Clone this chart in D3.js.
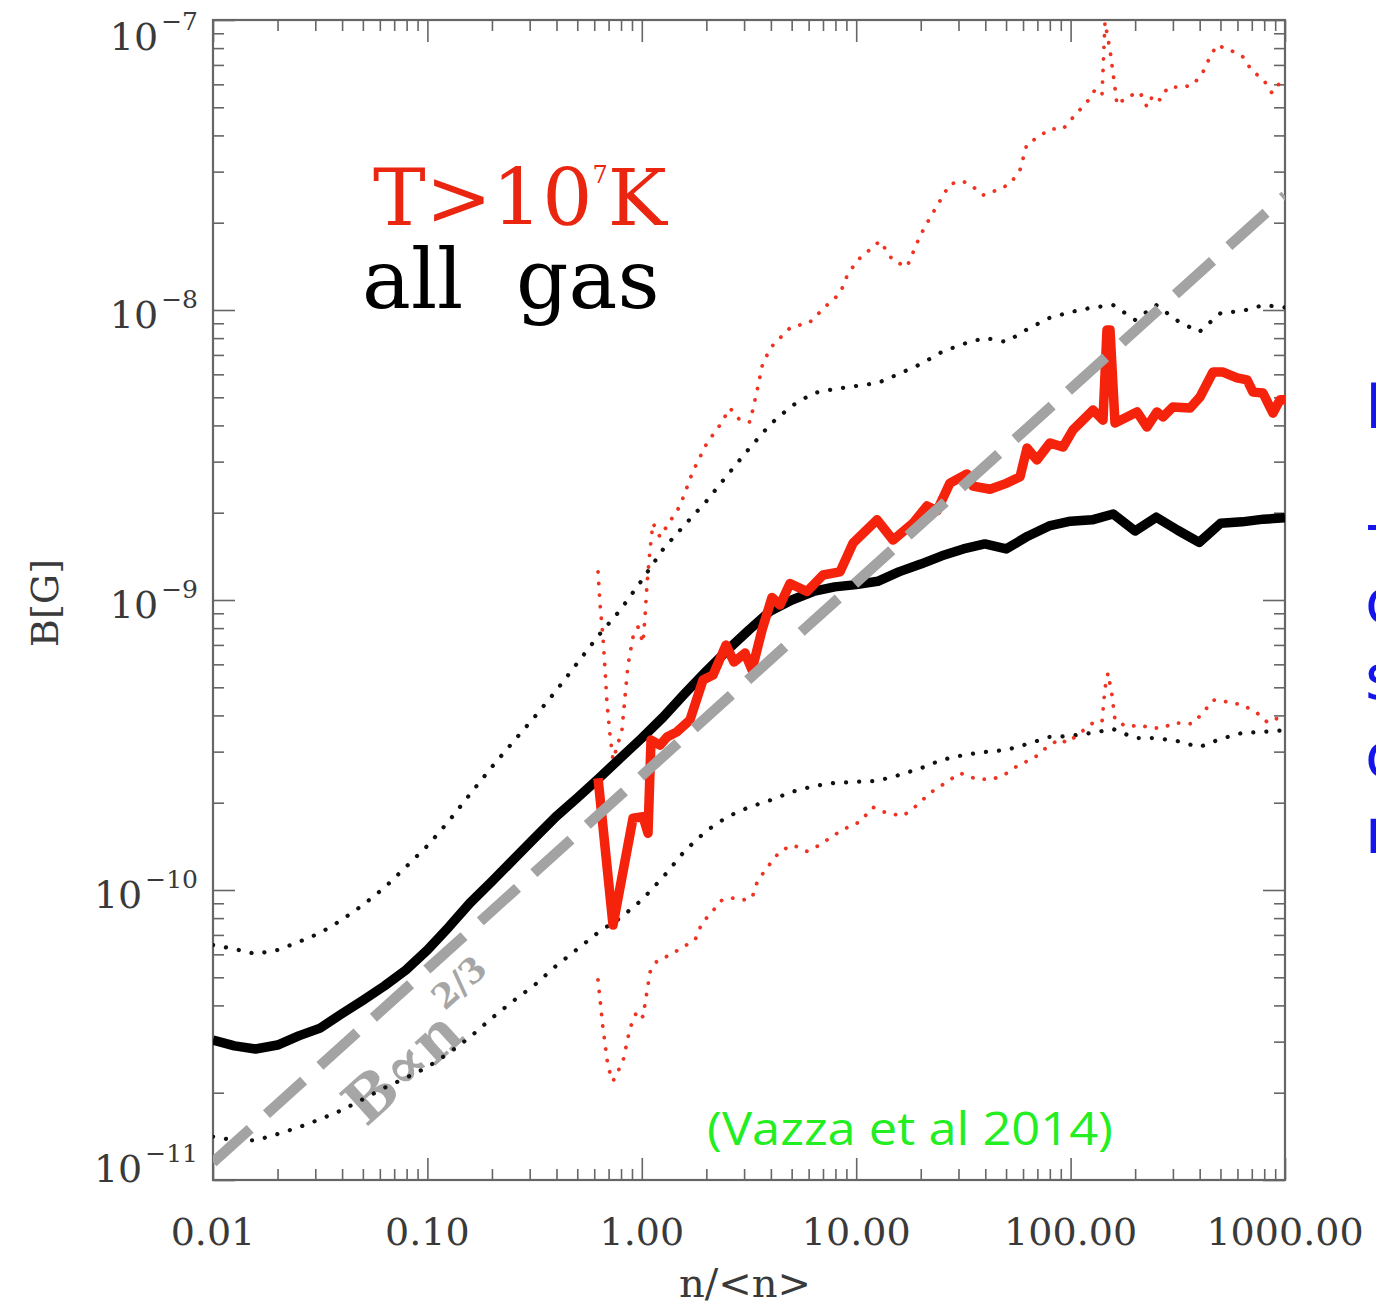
<!DOCTYPE html>
<html><head><meta charset="utf-8">
<script src="https://cdn.jsdelivr.net/npm/d3@7"></script>
<style>html,body{margin:0;padding:0;background:#fff;overflow:hidden}</style>
</head><body><svg id="chart" width="1376" height="1309"></svg>
<script>
// ---------------- data ----------------
// all gas: density bins and median / upper / lower B [G]
const nAll = [0.01, 0.0126, 0.0158, 0.0200, 0.0251, 0.0316, 0.0398, 0.0501, 0.0631, 0.0794, 0.100, 0.126, 0.158, 0.200, 0.251, 0.316, 0.398, 0.501, 0.631, 0.794, 1.00, 1.26, 1.58, 2.00, 2.51, 3.16, 3.98, 5.01, 6.31, 7.94, 10.0, 12.6, 15.8, 20.0, 25.1, 31.6, 39.8, 50.1, 63.1, 79.4, 100, 126, 158, 200, 251, 316, 398, 501, 631, 794, 1000];
const bAllMedian = [3.04e-11, 2.90e-11, 2.83e-11, 2.92e-11, 3.14e-11, 3.34e-11, 3.74e-11, 4.17e-11, 4.67e-11, 5.30e-11, 6.21e-11, 7.46e-11, 9.02e-11, 1.07e-10, 1.27e-10, 1.51e-10, 1.79e-10, 2.08e-10, 2.43e-10, 2.85e-10, 3.34e-10, 3.95e-10, 4.74e-10, 5.69e-10, 6.72e-10, 7.88e-10, 9.17e-10, 1.00e-9, 1.07e-9, 1.11e-9, 1.13e-9, 1.16e-9, 1.25e-9, 1.33e-9, 1.42e-9, 1.50e-9, 1.56e-9, 1.50e-9, 1.66e-9, 1.80e-9, 1.87e-9, 1.89e-9, 1.98e-9, 1.73e-9, 1.93e-9, 1.74e-9, 1.58e-9, 1.84e-9, 1.86e-9, 1.90e-9, 1.92e-9];
const bAllHigh = [6.46e-11, 6.26e-11, 6.02e-11, 6.21e-11, 6.62e-11, 7.11e-11, 7.88e-11, 8.88e-11, 1.02e-10, 1.20e-10, 1.42e-10, 1.73e-10, 2.14e-10, 2.66e-10, 3.24e-10, 3.95e-10, 4.86e-10, 6.07e-10, 7.57e-10, 9.24e-10, 1.17e-9, 1.50e-9, 1.81e-9, 2.19e-9, 2.70e-9, 3.32e-9, 4.04e-9, 4.67e-9, 5.17e-9, 5.34e-9, 5.47e-9, 5.60e-9, 6.02e-9, 6.51e-9, 7.17e-9, 7.64e-9, 8.01e-9, 7.76e-9, 8.60e-9, 9.38e-9, 9.84e-9, 1.02e-8, 1.04e-8, 9.24e-9, 1.04e-8, 9.17e-9, 8.40e-9, 9.76e-9, 9.92e-9, 1.04e-8, 1.02e-8];
const bAllLow = [1.41e-11, 1.37e-11, 1.37e-11, 1.44e-11, 1.52e-11, 1.62e-11, 1.74e-11, 1.90e-11, 2.08e-11, 2.25e-11, 2.45e-11, 2.74e-11, 3.11e-11, 3.62e-11, 4.14e-11, 4.70e-11, 5.47e-11, 6.26e-11, 7.17e-11, 8.01e-11, 9.24e-11, 1.11e-10, 1.36e-10, 1.60e-10, 1.79e-10, 1.93e-10, 2.04e-10, 2.18e-10, 2.28e-10, 2.34e-10, 2.36e-10, 2.38e-10, 2.49e-10, 2.63e-10, 2.81e-10, 2.92e-10, 2.99e-10, 3.04e-10, 3.19e-10, 3.37e-10, 3.40e-10, 3.48e-10, 3.59e-10, 3.34e-10, 3.34e-10, 3.26e-10, 3.11e-10, 3.32e-10, 3.48e-10, 3.51e-10, 3.56e-10];

// T > 1e7 K gas: median
const nHotMedian = [0.625, 0.734, 0.910, 1.013, 1.069, 1.104, 1.216, 1.311, 1.459, 1.678, 1.929, 2.148, 2.470, 2.692, 3.029, 3.266, 3.636, 4.048, 4.412, 4.912, 5.895, 7.000, 8.403, 9.663, 12.50, 14.85, 18.41, 21.39, 23.82, 27.38, 32.87, 35.06, 42.09, 50.51, 58.08, 62.62, 69.71, 80.15, 92.19, 102.6, 127.2, 141.6, 147.8, 152.7, 161.1, 204.0, 227.2, 252.9, 269.8, 300.4, 360.6, 401.4, 461.6, 513.8, 597.2, 665.2, 709.1, 789.6, 879.0, 947.8, 1000];
const bHotMedian = [2.43e-10, 7.57e-11, 1.77e-10, 1.79e-10, 1.57e-10, 3.29e-10, 3.16e-10, 3.37e-10, 3.51e-10, 3.86e-10, 5.30e-10, 5.51e-10, 6.99e-10, 6.11e-10, 6.56e-10, 5.74e-10, 7.88e-10, 1.02e-9, 9.61e-10, 1.14e-9, 1.07e-9, 1.22e-9, 1.25e-9, 1.57e-9, 1.89e-9, 1.61e-9, 1.84e-9, 2.11e-9, 2.03e-9, 2.53e-9, 2.72e-9, 2.47e-9, 2.41e-9, 2.53e-9, 2.66e-9, 3.34e-9, 3.04e-9, 3.48e-9, 3.37e-9, 3.86e-9, 4.52e-9, 4.17e-9, 8.53e-9, 8.53e-9, 4.08e-9, 4.45e-9, 3.95e-9, 4.45e-9, 4.28e-9, 4.63e-9, 4.59e-9, 5.01e-9, 6.11e-9, 6.11e-9, 5.83e-9, 5.74e-9, 5.21e-9, 5.17e-9, 4.41e-9, 4.90e-9, 4.90e-9];

// T > 1e7 K gas: upper dotted
const nHotHigh = [0.625, 0.638, 0.659, 0.674, 0.688, 0.711, 0.734, 0.766, 0.808, 0.835, 0.862, 0.910, 0.960, 1.013, 1.035, 1.058, 1.092, 1.128, 1.216, 1.311, 1.507, 1.733, 2.014, 2.315, 2.578, 2.871, 3.197, 3.446, 3.676, 4.091, 4.912, 6.088, 7.307, 8.403, 9.060, 10.09, 11.98, 12.91, 14.85, 17.26, 19.85, 22.09, 24.60, 27.38, 31.48, 35.06, 39.02, 45.36, 52.17, 58.08, 62.62, 69.71, 80.15, 92.19, 104.8, 119.3, 129.9, 140.1, 144.7, 152.7, 161.1, 164.6, 183.3, 210.7, 227.2, 242.3, 261.2, 284.7, 334.4, 372.3, 414.5, 447.0, 481.7, 565.9, 637.1, 701.8, 789.6, 869.7, 927.6, 1000];
const bHotHigh = [1.25e-9, 9.76e-10, 7.46e-10, 5.74e-10, 4.41e-10, 3.42e-10, 2.81e-10, 3.11e-10, 3.56e-10, 4.63e-10, 5.97e-10, 7.46e-10, 8.07e-10, 7.11e-10, 8.74e-10, 1.14e-9, 1.49e-9, 1.84e-9, 1.65e-9, 1.80e-9, 2.11e-9, 2.78e-9, 3.48e-9, 4.01e-9, 4.59e-9, 4.17e-9, 4.11e-9, 5.26e-9, 6.62e-9, 7.57e-9, 8.67e-9, 9.09e-9, 1.04e-8, 1.14e-8, 1.31e-8, 1.48e-8, 1.65e-8, 1.73e-8, 1.48e-8, 1.41e-8, 1.80e-8, 2.08e-8, 2.38e-8, 2.72e-8, 2.78e-8, 2.66e-8, 2.49e-8, 2.59e-8, 2.72e-8, 3.04e-8, 3.74e-8, 3.92e-8, 4.21e-8, 4.21e-8, 4.70e-8, 5.21e-8, 5.74e-8, 5.51e-8, 9.84e-8, 7.88e-8, 5.83e-8, 5.09e-8, 5.43e-8, 5.64e-8, 5.01e-8, 5.51e-8, 5.30e-8, 5.87e-8, 5.87e-8, 5.97e-8, 6.62e-8, 7.46e-8, 8.20e-8, 7.82e-8, 7.46e-8, 6.67e-8, 6.26e-8, 5.60e-8, 5.97e-8, 6.21e-8];

// T > 1e7 K gas: lower dotted
const nHotLow = [0.625, 0.659, 0.696, 0.734, 0.817, 0.881, 0.950, 1.013, 1.092, 1.177, 1.354, 1.557, 1.771, 1.909, 2.125, 2.366, 2.634, 2.965, 3.266, 3.446, 3.755, 4.412, 5.072, 5.895, 6.780, 7.794, 9.060, 10.42, 11.98, 13.92, 16.53, 19.21, 22.09, 26.51, 30.49, 36.59, 43.47, 50.51, 58.08, 66.77, 77.61, 89.25, 96.21, 110.6, 127.2, 140.1, 144.7, 149.4, 156.0, 161.1, 183.3, 210.7, 234.6, 266.9, 306.9, 368.4, 414.5, 461.6, 542.1, 637.1, 740.3, 833.3, 927.6, 1000];
const bHotLow = [4.90e-11, 3.34e-11, 2.45e-11, 2.19e-11, 2.57e-11, 3.34e-11, 3.83e-11, 3.65e-11, 5.21e-11, 5.69e-11, 5.97e-11, 6.36e-11, 6.72e-11, 7.69e-11, 8.40e-11, 9.24e-11, 9.38e-11, 9.24e-11, 9.38e-11, 1.06e-10, 1.17e-10, 1.36e-10, 1.43e-10, 1.36e-10, 1.43e-10, 1.54e-10, 1.64e-10, 1.72e-10, 1.93e-10, 1.84e-10, 1.80e-10, 1.96e-10, 2.16e-10, 2.36e-10, 2.53e-10, 2.41e-10, 2.41e-10, 2.53e-10, 2.72e-10, 2.83e-10, 3.11e-10, 3.32e-10, 3.21e-10, 3.48e-10, 3.77e-10, 3.80e-10, 4.97e-10, 5.60e-10, 4.70e-10, 3.86e-10, 3.65e-10, 3.71e-10, 3.62e-10, 3.62e-10, 3.77e-10, 3.74e-10, 4.08e-10, 4.52e-10, 4.45e-10, 4.34e-10, 4.08e-10, 3.77e-10, 3.92e-10, 4.01e-10];

// B ∝ n^(2/3) guide
const nGuide = [0.01, 1000];
const bGuide = [1.15e-11, 2.48e-8];

// axes
const xTickValues = [0.01, 0.1, 1, 10, 100, 1000];
const xTickLabels = ["0.01", "0.10", "1.00", "10.00", "100.00", "1000.00"];
const yTickValues = [1e-11, 1e-10, 1e-9, 1e-8, 1e-7];
const yTickExponents = ["\u221211", "\u221210", "\u22129", "\u22128", "\u22127"];

// annotation texts
const labelHot = ["T>10", "7", "K"];
const labelAll = ["all", "gas"];
const guideLabel = ["B\u221Dn", "2/3"];
const citation = "(Vazza et al 2014)";
const sideLetters = ["L", "-", "c", "s", "c", "r"];

// ---------------- drawing ----------------
const svg = d3.select("#chart");
const L = 213, R = 1285, T = 20, B = 1180;
const x = d3.scaleLog().domain([0.01, 1000]).range([L, R]);
const y = d3.scaleLog().domain([1e-11, 1e-7]).range([B, T]);
const serif = "'DejaVu Serif', serif";
const axisCol = "#666";

svg.append("rect").attr("width", 1376).attr("height", 1309).attr("fill", "#fff");

svg.append("defs").append("clipPath").attr("id", "plotclip")
  .append("rect").attr("x", L).attr("y", T).attr("width", R - L).attr("height", B - T);

// minor ticks
const minor = (lo, hi) => {
  const out = [];
  for (let d = lo; d < hi * 0.99; d *= 10) for (let m = 2; m <= 9; m++) out.push(m * d);
  return out;
};
const xMinor = minor(0.01, 1000), yMinor = minor(1e-11, 1e-7);

function tickAxis(axisFn, scale, vals, size, transform) {
  const g = svg.append("g").attr("transform", transform)
    .call(axisFn(scale).tickValues(vals).tickSize(-size).tickFormat(""));
  g.select(".domain").remove();
  g.selectAll("line").attr("stroke", axisCol).attr("stroke-width", 1.6);
}
tickAxis(d3.axisBottom, x, xTickValues, 22, `translate(0,${B})`);
tickAxis(d3.axisBottom, x, xMinor, 11, `translate(0,${B})`);
tickAxis(d3.axisTop, x, xTickValues, 22, `translate(0,${T})`);
tickAxis(d3.axisTop, x, xMinor, 11, `translate(0,${T})`);
tickAxis(d3.axisLeft, y, yTickValues, 22, `translate(${L},0)`);
tickAxis(d3.axisLeft, y, yMinor, 11, `translate(${L},0)`);
tickAxis(d3.axisRight, y, yTickValues, 22, `translate(${R},0)`);
tickAxis(d3.axisRight, y, yMinor, 11, `translate(${R},0)`);

svg.append("rect").attr("x", L).attr("y", T).attr("width", R - L).attr("height", B - T)
  .attr("fill", "none").attr("stroke", axisCol).attr("stroke-width", 2.2);

// tick labels
svg.append("g").selectAll("text").data(xTickValues).join("text")
  .attr("x", d => x(d)).attr("y", 1245).attr("text-anchor", "middle")
  .attr("font-family", serif).attr("font-size", 38).attr("fill", "#3a3a3a")
  .text((d, i) => xTickLabels[i]);

const yl = svg.append("g").selectAll("text").data(yTickValues).join("text")
  .attr("x", 198).attr("y", d => Math.min(Math.max(y(d) + 18, T + 30), B + 2))
  .attr("text-anchor", "end").attr("font-family", serif).attr("font-size", 38).attr("fill", "#3a3a3a");
yl.append("tspan").text("10");
yl.append("tspan").attr("font-size", 25).attr("dy", -20).attr("dx", 3).text((d, i) => yTickExponents[i]);

svg.append("text").attr("x", 745).attr("y", 1297).attr("text-anchor", "middle")
  .attr("font-family", serif).attr("font-size", 40).attr("fill", "#3a3a3a").text("n/<n>");
svg.append("text").attr("transform", "translate(58,603) rotate(-90)").attr("text-anchor", "middle")
  .attr("font-family", serif).attr("font-size", 38).attr("fill", "#3a3a3a").text("B[G]");

// guide label
const gl = svg.append("text").attr("transform", "translate(366,1128) rotate(-42)")
  .attr("font-family", serif).attr("font-size", 60).attr("font-weight", "bold").attr("fill", "#a6a6a6");
gl.append("tspan").text(guideLabel[0]);
gl.append("tspan").attr("font-size", 34).attr("dy", -34).attr("dx", 2).text(guideLabel[1]);

// curves
const plot = svg.append("g").attr("clip-path", "url(#plotclip)");
const line = d3.line().x(d => x(d[0])).y(d => y(d[1]));

function draw(ns, bs, color, width, dash) {
  plot.append("path").datum(d3.zip(ns, bs)).attr("d", line)
    .attr("fill", "none").attr("stroke", color).attr("stroke-width", width)
    .attr("stroke-linejoin", "round")
    .attr("stroke-linecap", dash ? "round" : "butt")
    .attr("stroke-dasharray", dash || null);
}
draw(nAll, bAllHigh, "#111", 4.2, "0.1 13");
draw(nAll, bAllLow, "#111", 4.2, "0.1 13");
draw(nHotHigh, bHotHigh, "#ee3322", 3.8, "0.1 11.5");
draw(nHotLow, bHotLow, "#ee3322", 3.8, "0.1 11.5");
draw(nAll, bAllMedian, "#000", 9.5, null);
draw(nHotMedian, bHotMedian, "#f5220c", 9.5, null);
plot.append("path").datum(d3.zip(nGuide, bGuide)).attr("d", line)
  .attr("fill", "none").attr("stroke", "#a3a3a3").attr("stroke-width", 10.5)
  .attr("stroke-dasharray", "50 22");

// legend-like labels (one text block, two lines)
const lg = svg.append("text").attr("font-family", serif);
lg.append("tspan").attr("x", 373).attr("y", 225).attr("font-size", 79).attr("fill", "#ea2510").text(labelHot[0]);
lg.append("tspan").attr("font-size", 24).attr("fill", "#ea2510").attr("dy", -42).text(labelHot[1]);
lg.append("tspan").attr("font-size", 79).attr("fill", "#ea2510").attr("dy", 42).text(labelHot[2]);
lg.append("tspan").attr("x", 362).attr("y", 308).attr("font-size", 82).attr("fill", "#000").text(labelAll[0]);
lg.append("tspan").attr("x", 516).attr("y", 308).attr("font-size", 82).attr("fill", "#000").text(labelAll[1]);

svg.append("text").attr("x", 707).attr("y", 1145)
  .attr("font-family", "'Open Sans', sans-serif").attr("font-size", 45)
  .attr("fill", "#22ee22").attr("textLength", 406).attr("lengthAdjust", "spacingAndGlyphs")
  .text(citation);

const sideY = [428, 545, 623, 699, 777, 853];
svg.append("g").selectAll("text").data(sideLetters).join("text")
  .attr("x", 1365).attr("y", (d, i) => sideY[i])
  .attr("font-family", "'DejaVu Sans', sans-serif").attr("font-size", 62)
  .attr("fill", "#1414ee").text(d => d);
</script>
</body></html>
